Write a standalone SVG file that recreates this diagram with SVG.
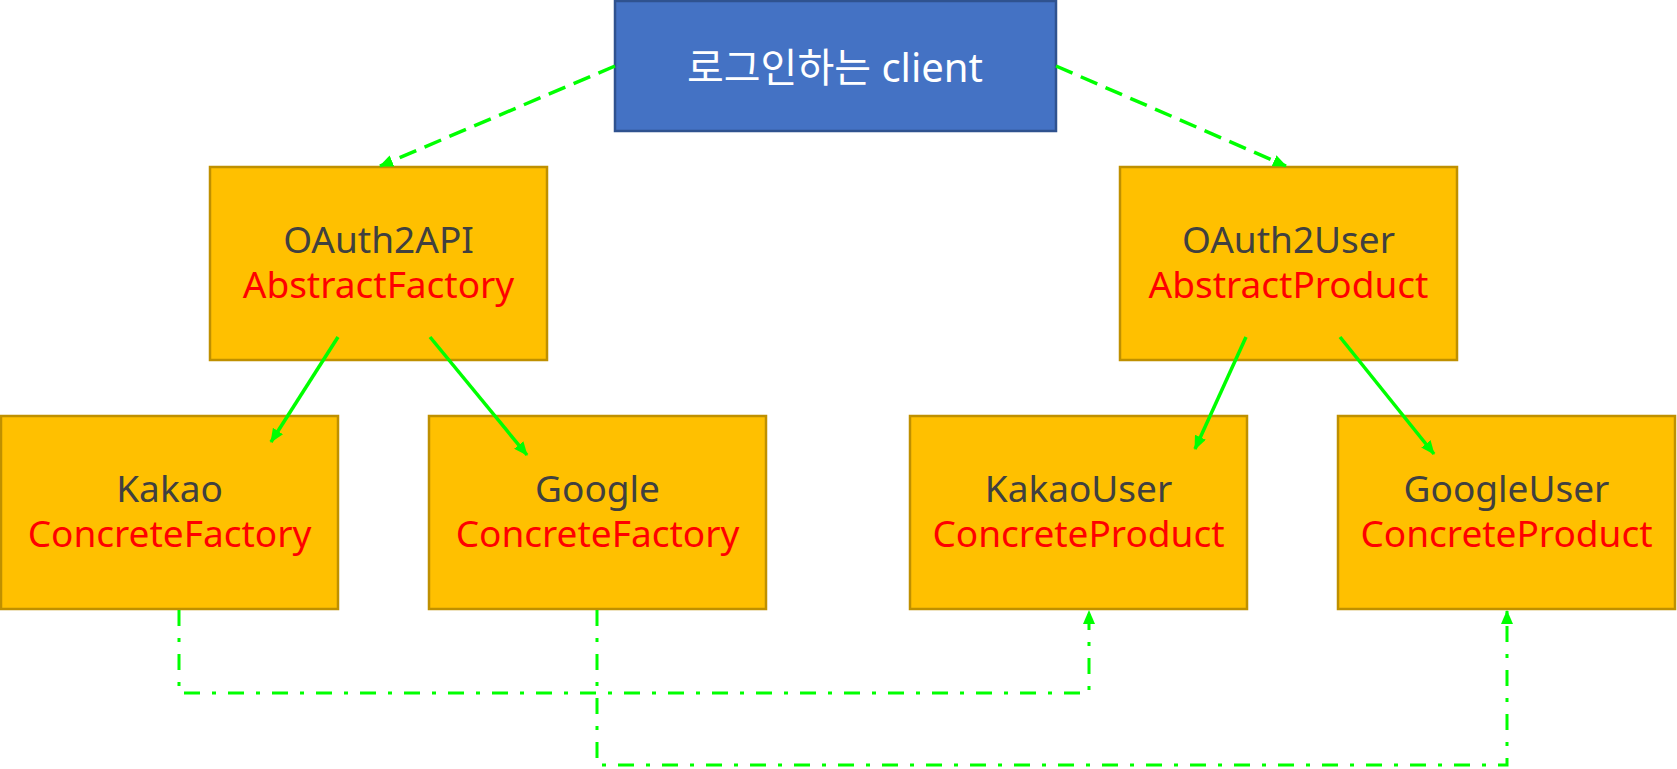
<svg xmlns="http://www.w3.org/2000/svg" width="1677" height="769" viewBox="0 0 1677 769">
<style>
.box{fill:#FFC000;stroke:#BF9000;stroke-width:2.5}
.client{fill:#4472C4;stroke:#2F528F;stroke-width:2.5}
text{font-family:"Noto Sans","Open Sans","Noto Sans CJK KR",sans-serif;font-size:37px;text-anchor:middle}
.n{fill:#404040}
.r{fill:#FF0000}
.w{fill:#FFFFFF;font-size:40px}
.c{fill:none;stroke:#00FF00;stroke-width:3.5}
.dash{stroke-dasharray:18 9}
.dd{stroke-dasharray:16 12 4 12;stroke-width:3}
</style>
<defs>
<marker id="ah" markerUnits="userSpaceOnUse" markerWidth="14" markerHeight="12" refX="13" refY="6" orient="auto">
<path d="M0,0 L14,6 L0,12 Z" fill="#00FF00"/>
</marker>
</defs>
<rect width="1677" height="769" fill="#FFFFFF"/>
<g id="client">
<rect class="client" x="615" y="1" width="441" height="130"/>
<text class="w" x="835" y="82">로그인하는 client</text>
</g>
<g id="oauth2api">
<rect class="box" x="210" y="167" width="337" height="193"/>
<text class="n" x="378.5" y="253">OAuth2API</text>
<text class="r" x="378.5" y="298">AbstractFactory</text>
</g>
<g id="oauth2user">
<rect class="box" x="1120" y="167" width="337" height="193"/>
<text class="n" x="1288.5" y="253">OAuth2User</text>
<text class="r" x="1288.5" y="298">AbstractProduct</text>
</g>
<g id="kakao">
<rect class="box" x="1" y="416" width="337" height="193"/>
<text class="n" x="169.5" y="502">Kakao</text>
<text class="r" x="169.5" y="547">ConcreteFactory</text>
</g>
<g id="google">
<rect class="box" x="429" y="416" width="337" height="193"/>
<text class="n" x="597.5" y="502">Google</text>
<text class="r" x="597.5" y="547">ConcreteFactory</text>
</g>
<g id="kakaouser">
<rect class="box" x="910" y="416" width="337" height="193"/>
<text class="n" x="1078.5" y="502">KakaoUser</text>
<text class="r" x="1078.5" y="547">ConcreteProduct</text>
</g>
<g id="googleuser">
<rect class="box" x="1338" y="416" width="337" height="193"/>
<text class="n" x="1506.5" y="502">GoogleUser</text>
<text class="r" x="1506.5" y="547">ConcreteProduct</text>
</g>
<g id="connectors">
<line class="c dash" x1="615" y1="66" x2="380" y2="166" marker-end="url(#ah)"/>
<line class="c dash" x1="1056" y1="66" x2="1286" y2="166" marker-end="url(#ah)"/>
<line class="c" x1="338" y1="337" x2="271" y2="442" marker-end="url(#ah)"/>
<line class="c" x1="430" y1="337" x2="527" y2="455" marker-end="url(#ah)"/>
<line class="c" x1="1246" y1="337" x2="1195" y2="449" marker-end="url(#ah)"/>
<line class="c" x1="1340" y1="337" x2="1434" y2="454" marker-end="url(#ah)"/>
<polyline class="c dd" points="179,610 179,693 1089,693 1089,611" marker-end="url(#ah)"/>
<polyline class="c dd" points="597,610 597,765 1507,765 1507,611" marker-end="url(#ah)"/>
</g>
</svg>
